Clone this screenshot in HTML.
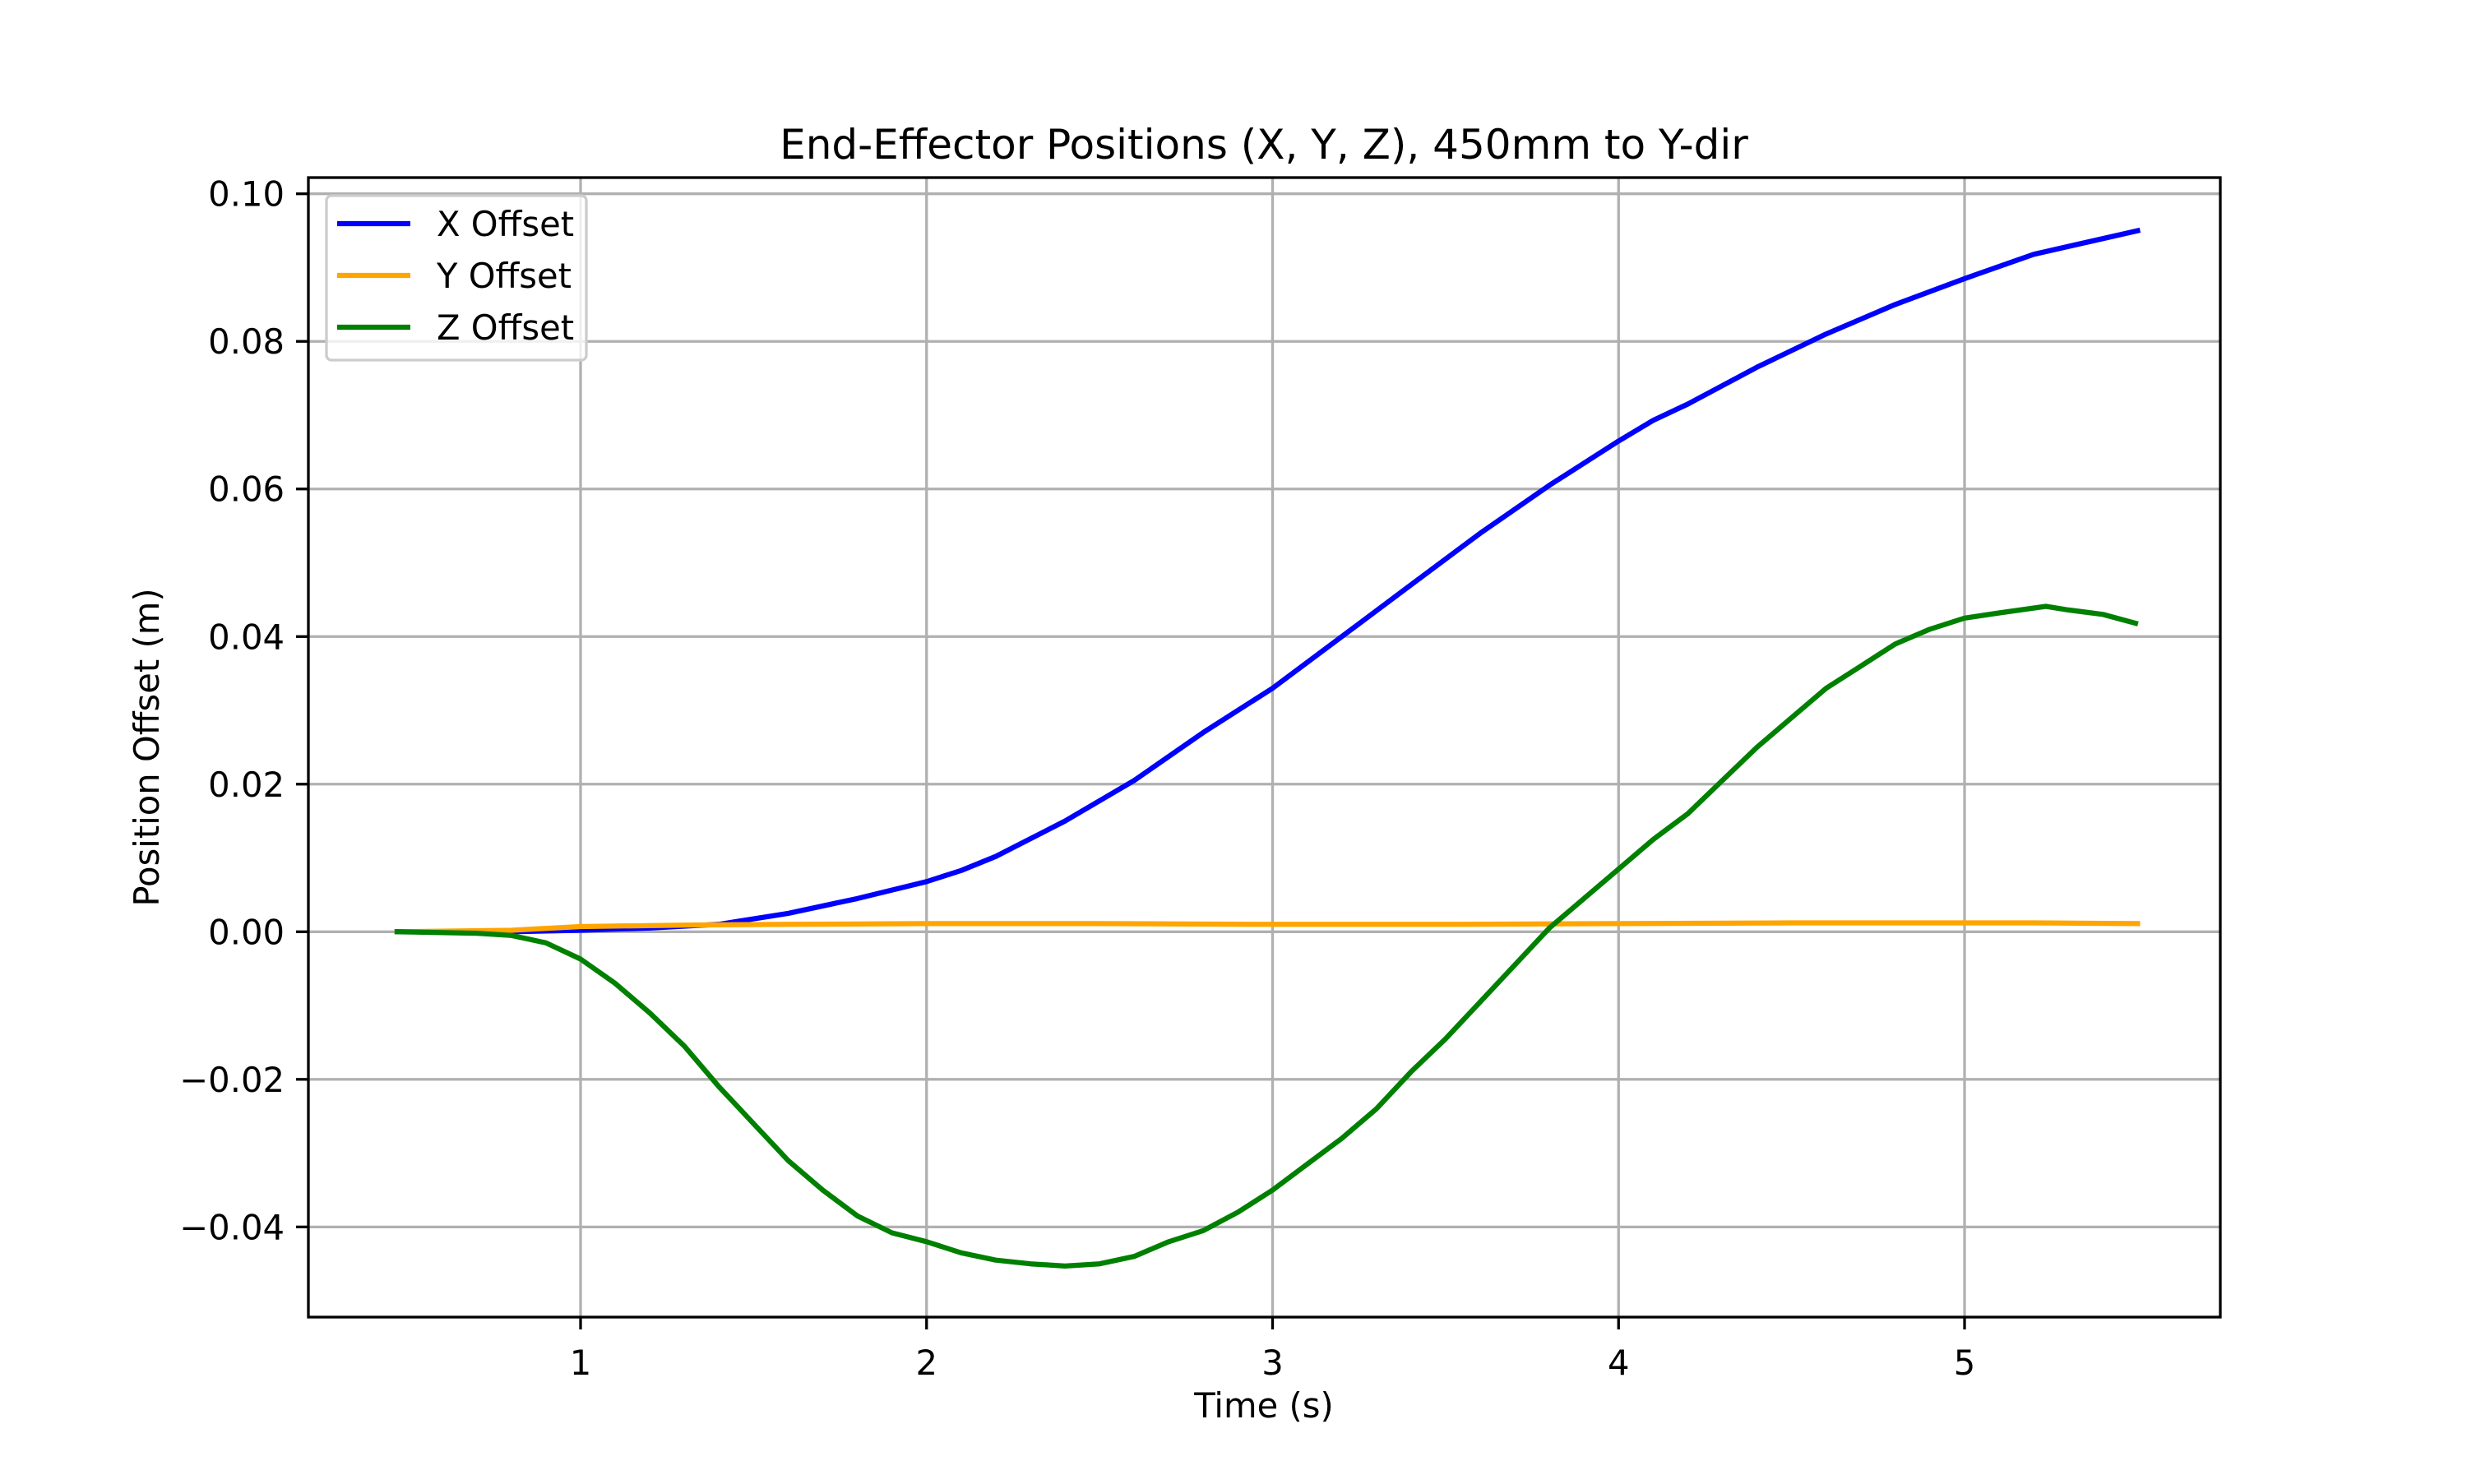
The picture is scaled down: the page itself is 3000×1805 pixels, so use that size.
<!DOCTYPE html>
<html><head><meta charset="utf-8"><style>
html,body{margin:0;padding:0;background:#fff;}
svg text{font-family:"DejaVu Sans","Liberation Sans",sans-serif;fill:#000;}
</style></head><body>
<svg id="chart" width="3000" height="1800" viewBox="0 0 3000 1800" xmlns="http://www.w3.org/2000/svg">
<rect width="3000" height="1800" fill="#fff"/>
<g id="grid"></g>
<g id="series"></g>
<rect x="375" y="216" width="2325" height="1386" fill="none" stroke="#000" stroke-width="3.3"/>
<g id="ticks"></g>
<text x="1537" y="193" font-size="50" text-anchor="middle">End-Effector Positions (X, Y, Z), 450mm to Y-dir</text>
<text x="1537" y="1724" font-size="41.7" text-anchor="middle">Time (s)</text>
<text x="193" y="909" font-size="41.7" text-anchor="middle" transform="rotate(-90 193 909)">Position Offset (m)</text>
<g>
<rect x="397" y="238" width="316" height="200" rx="6" fill="#fff" fill-opacity="0.8" stroke="#cccccc" stroke-width="3.3"/>
<line x1="410" y1="272" x2="499" y2="272" stroke="#0000ff" stroke-width="6.25"/>
<text x="531" y="287" font-size="41.7">X Offset</text>
<line x1="410" y1="335" x2="499" y2="335" stroke="#ffa500" stroke-width="6.25"/>
<text x="531" y="350" font-size="41.7">Y Offset</text>
<line x1="410" y1="398" x2="499" y2="398" stroke="#008000" stroke-width="6.25"/>
<text x="531" y="413" font-size="41.7">Z Offset</text>
</g>
</svg>
<script>
const xTicks=[1,2,3,4,5];
const xTickLabels=["1","2","3","4","5"];
const yTicks=[-0.04,-0.02,0,0.02,0.04,0.06,0.08,0.10];
const yTickLabels=["\u22120.04","\u22120.02","0.00","0.02","0.04","0.06","0.08","0.10"];
const tX=[0.47,0.8,1.0,1.2,1.4,1.6,1.8,2.0,2.1,2.2,2.4,2.6,2.8,3.0,3.2,3.4,3.6,3.8,4.0,4.1,4.2,4.4,4.6,4.8,5.0,5.2,5.5];
const xOffset=[0,0,0.0002,0.0005,0.001,0.0025,0.0045,0.0068,0.0083,0.0102,0.015,0.0205,0.027,0.033,0.040,0.047,0.054,0.0605,0.0665,0.0693,0.0715,0.0765,0.081,0.085,0.0885,0.0918,0.095];
const tY=[0.47,0.8,1.0,1.3,1.6,2.0,2.5,3.0,3.5,4.0,4.5,4.8,5.2,5.5];
const yOffset=[0,0.0002,0.0007,0.0009,0.001,0.0011,0.0011,0.001,0.001,0.0011,0.0012,0.0012,0.0012,0.0011];
const tZ=[0.47,0.7,0.8,0.9,1.0,1.1,1.2,1.3,1.4,1.5,1.6,1.7,1.8,1.9,2.0,2.1,2.2,2.3,2.4,2.5,2.6,2.7,2.8,2.9,3.0,3.1,3.2,3.3,3.4,3.5,3.6,3.7,3.8,3.9,4.0,4.1,4.2,4.3,4.4,4.5,4.6,4.7,4.8,4.9,5.0,5.1,5.235,5.3,5.4,5.494];
const zOffset=[0,-0.0002,-0.0005,-0.0015,-0.0037,-0.007,-0.011,-0.0155,-0.021,-0.026,-0.031,-0.035,-0.0385,-0.0408,-0.042,-0.0435,-0.0445,-0.045,-0.0453,-0.045,-0.044,-0.042,-0.0405,-0.038,-0.035,-0.0315,-0.028,-0.024,-0.019,-0.0145,-0.0095,-0.0045,0.0005,0.0045,0.0085,0.0125,0.016,0.0205,0.025,0.029,0.033,0.036,0.039,0.041,0.0425,0.0432,0.0441,0.0436,0.043,0.0418];
const NS="http://www.w3.org/2000/svg";
function sx(t){return 285.25+420.75*t;}
function sy(v){return 1133.3-8976*v;}
const grid=document.getElementById('grid'),ticks=document.getElementById('ticks'),series=document.getElementById('series');
function mk(tag,attrs,parent){const e=document.createElementNS(NS,tag);for(const k in attrs)e.setAttribute(k,attrs[k]);parent.appendChild(e);return e;}
xTicks.forEach((t,i)=>{
 const x=sx(t);
 const g=mk('line',{x1:x,y1:216,x2:x,y2:1602,stroke:'#b0b0b0','stroke-width':3.3},grid);
 
 
 const tk=mk('line',{x1:x,y1:1602,x2:x,y2:1617,stroke:'#000','stroke-width':3.3},ticks);
 
 
 const tx=mk('text',{x:x,y:1672,'font-size':41.7,'text-anchor':'middle'},ticks);
 tx.textContent=xTickLabels[i];
 
 
});
yTicks.forEach((v,i)=>{
 const y=sy(v);
 const g=mk('line',{x1:375,y1:y,x2:2700,y2:y,stroke:'#b0b0b0','stroke-width':3.3},grid);
 
 
 const tk=mk('line',{x1:360,y1:y,x2:375,y2:y,stroke:'#000','stroke-width':3.3},ticks);
 
 
 const tx=mk('text',{x:346,y:y+15,'font-size':41.7,'text-anchor':'end'},ticks);
 tx.textContent=yTickLabels[i];
 
 
});
function line(ts,vs,color,name){
 const d=ts.map((t,i)=>(i?'L':'M')+sx(t).toFixed(1)+','+sy(vs[i]).toFixed(1)).join(' ');
 const p=mk('path',{d:d,fill:'none',stroke:color,'stroke-width':6.25,'stroke-linejoin':'round','stroke-linecap':'square'},series);
 
 
}
line(tX,xOffset,'#0000ff','x-offset-line');
line(tY,yOffset,'#ffa500','y-offset-line');
line(tZ,zOffset,'#008000','z-offset-line');
</script>
</body></html>
